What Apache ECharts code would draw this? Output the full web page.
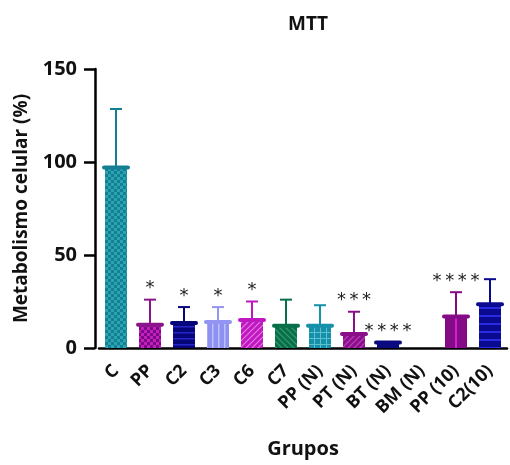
<!DOCTYPE html>
<html>
<head>
<meta charset="utf-8">
<script src="https://cdn.jsdelivr.net/npm/echarts@6/dist/echarts.min.js"></script>
<style>
  html, body { margin: 0; padding: 0; background: #fff; }
  #chart { width: 510px; height: 465px; }
</style>
</head>
<body>
<div id="chart"></div>
<script>
var categories = ['C', 'PP', 'C2', 'C3', 'C6', 'C7', 'PP (N)', 'PT (N)', 'BT (N)', 'BM (N)', 'PP (10)', 'C2(10)'];
var means = [97, 12.5, 13.5, 14, 15, 12, 12, 7.5, 3, 0, 17, 23.5];
var errors = [31.5, 13.5, 8.5, 8, 10, 14, 11, 12, 0, 0, 13, 13.5];
var stars = ['', '*', '*', '*', '*', '', '', '***', '****', '', '****', ''];
var yTicks = [0, 50, 100, 150];

// bar styling: base colour, pattern colour, pattern kind
var barStyles = [
  { base: '#137f93', fg: '#2ba3b3', kind: 'checker', edge: '#137f93' },
  { base: '#7a0a80', fg: '#c21ec2', kind: 'checker', edge: '#8a148a' },
  { base: '#06067a', fg: '#2626c8', kind: 'hlines', edge: '#06067a' },
  { base: '#9090f0', fg: '#b8c4ff', kind: 'vlines', edge: '#9494f2' },
  { base: '#c018c0', fg: '#e478e4', kind: 'diag', edge: '#c018c0' },
  { base: '#07704a', fg: '#3a9a70', kind: 'diag2', edge: '#07704a' },
  { base: '#1590a8', fg: '#5cc0d0', kind: 'grid', edge: '#1590a8' },
  { base: '#8a108a', fg: '#c040c0', kind: 'diag', edge: '#8a108a' },
  { base: '#0a0a80', fg: '#0a0a80', kind: 'solid', edge: '#0a0a80' },
  { base: '#ffffff', fg: '#ffffff', kind: 'solid', edge: '#ffffff' },
  { base: '#850a85', fg: '#850a85', kind: 'solid', edge: '#850a85' },
  { base: '#0a0a90', fg: '#2a2ae0', kind: 'hlines2', edge: '#0a0a90' }
];

function makePattern(s) {
  if (s.kind === 'solid') return s.base;
  var c = document.createElement('canvas');
  var n = 6;
  if (s.kind === 'hlines2') n = 8;
  c.width = n; c.height = n;
  var g = c.getContext('2d');
  g.fillStyle = s.base; g.fillRect(0, 0, n, n);
  g.fillStyle = s.fg; g.strokeStyle = s.fg; g.lineWidth = 1.2;
  if (s.kind === 'checker') {
    g.fillRect(0, 0, 3, 3); g.fillRect(3, 3, 3, 3);
  } else if (s.kind === 'hlines') {
    g.fillRect(0, 2, n, 1.5);
  } else if (s.kind === 'hlines2') {
    g.fillRect(0, 3, n, 2);
  } else if (s.kind === 'vlines') {
    g.fillRect(2, 0, 1.5, n);
  } else if (s.kind === 'grid') {
    g.fillRect(2, 0, 1, n); g.fillRect(0, 2, n, 1);
  } else if (s.kind === 'diag') {
    g.beginPath(); g.moveTo(0, n); g.lineTo(n, 0); g.stroke();
    g.beginPath(); g.moveTo(-1, 1); g.lineTo(1, -1); g.stroke();
    g.beginPath(); g.moveTo(n - 1, n + 1); g.lineTo(n + 1, n - 1); g.stroke();
  } else if (s.kind === 'diag2') {
    g.beginPath(); g.moveTo(0, 0); g.lineTo(n, n); g.stroke();
    g.beginPath(); g.moveTo(n - 1, -1); g.lineTo(n + 1, 1); g.stroke();
    g.beginPath(); g.moveTo(-1, n - 1); g.lineTo(1, n + 1); g.stroke();
  }
  return { image: c, repeat: 'repeat' };
}

var FONT = '"Open Sans", "Noto Sans", sans-serif';

var barData = means.map(function (v, i) {
  return { value: v, itemStyle: { color: makePattern(barStyles[i]) } };
});

var errData = means.map(function (v, i) { return [i, v, v + errors[i], stars[i]]; });

var chart = echarts.init(document.getElementById('chart'));
chart.setOption({
  animation: false,
  backgroundColor: '#fff',
  title: {
    text: 'MTT', left: 283, top: 10,
    textStyle: { fontFamily: FONT, fontWeight: 'bold', fontSize: 19, color: '#111' }
  },
  grid: { left: 99, right: 3, top: 69, bottom: 117, containLabel: false },
  xAxis: {
    type: 'category', data: categories,
    name: 'Grupos', nameLocation: 'middle', nameGap: 91,
    nameTextStyle: { fontFamily: FONT, fontWeight: 'bold', fontSize: 20, color: '#111' },
    axisLine: { lineStyle: { color: '#000', width: 2.5 } },
    axisTick: { alignWithLabel: true, length: 12, lineStyle: { color: '#000', width: 2.5 } },
    axisLabel: {
      rotate: 45, interval: 0, margin: 20,
      fontFamily: FONT, fontWeight: 'bold', fontSize: 18, color: '#111'
    }
  },
  yAxis: {
    type: 'value', min: 0, max: 150, interval: 50, offset: 4,
    name: 'Metabolismo celular (%)', nameLocation: 'middle', nameGap: 64,
    nameTextStyle: { fontFamily: FONT, fontWeight: 'bold', fontSize: 19, color: '#111' },
    axisLine: { show: true, lineStyle: { color: '#000', width: 2.5 } },
    axisTick: { show: true, length: 11, lineStyle: { color: '#000', width: 2.5 } },
    axisLabel: {
      margin: 18, fontFamily: FONT, fontWeight: 'bold', fontSize: 20, color: '#111',
      formatter: function (v) { return yTicks.indexOf(v) >= 0 ? String(v) : ''; }
    },
    splitLine: { show: false }
  },
  series: [
    {
      type: 'bar', data: barData, barWidth: 22, z: 2
    },
    {
      type: 'custom', z: 3,
      data: errData,
      renderItem: function (params, api) {
        var i = api.value(0);
        var st = barStyles[i];
        var base = api.coord([i, 0]);
        var m = api.coord([i, api.value(1)]);
        var t = api.coord([i, api.value(2)]);
        var x = m[0];
        var kids = [];
        if (api.value(1) > 0) {
          if (api.value(2) > api.value(1) + 0.5) {
            kids.push({ type: 'line', shape: { x1: x, y1: m[1], x2: x, y2: t[1] },
              style: { stroke: st.edge, lineWidth: 2 } });
            kids.push({ type: 'line', shape: { x1: x - 6, y1: t[1], x2: x + 6, y2: t[1] },
              style: { stroke: st.edge, lineWidth: 2 } });
          }
          if (i === 10) {
            kids.push({ type: 'line', shape: { x1: x, y1: base[1], x2: x, y2: m[1] },
              style: { stroke: '#d020d0', lineWidth: 2 } });
          }
          kids.push({ type: 'line', shape: { x1: x - 12, y1: m[1], x2: x + 12, y2: m[1] },
            style: { stroke: st.edge, lineWidth: 4, lineCap: 'round' } });
        }
        var s = api.value(3);
        if (s) {
          kids.push({ type: 'text', x: x, y: t[1] - 2,
            style: { text: s.split('').join('\u2009'), fontFamily: 'DejaVu Sans', fontSize: 18, fill: '#222',
              align: 'center', verticalAlign: 'bottom' } });
        }
        return { type: 'group', children: kids };
      }
    }
  ]
});
</script>
</body>
</html>
